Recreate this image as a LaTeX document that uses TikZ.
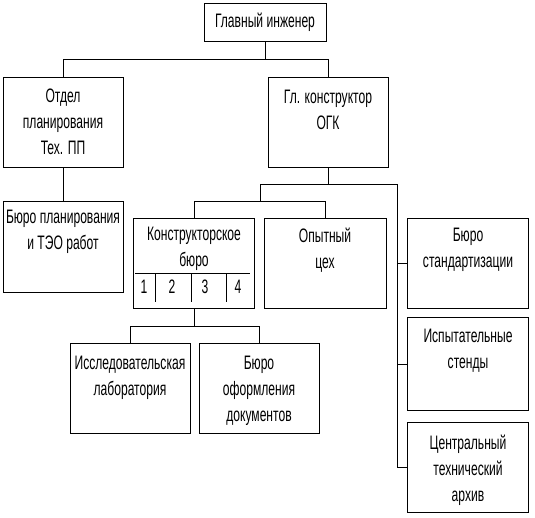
\documentclass[tikz,border=0pt]{standalone}
\usepackage{fontspec}
\newfontfamily\narrowsans[FakeStretch=0.62]{Liberation Sans}
\newcommand{\boxfont}{\narrowsans\fontsize{19.5}{26}\selectfont}
\usetikzlibrary{positioning}

\begin{document}
\begin{tikzpicture}[x=1pt, y=-1pt]
		% Estilos de bloques y líneas
		\tikzset{
			box/.style={
					rectangle, draw, line width=1pt,
					minimum width=120pt, minimum height=90pt, inner sep=0pt
				},
			box text/.style={
					align=center, inner sep=0pt, font=\boxfont,
					execute at begin node={\rule{0pt}{16pt}}
				},
			line/.style={
					draw, line width=1pt
				}
		}
		\useasboundingbox (0,0) rectangle (535,517);

		% Bloques
		\node[box, minimum width=122pt, minimum height=38pt, font=\boxfont] (gi) at (265,22) {Главный инженер};
		\node[box] (otd) at (63,122) {};
		\node[box] (glk) at (328,122) {};
		\node[box, minimum height=91pt] (bpl) at (63,247) {};
		\node[box, minimum width=121pt] (kb) at (194,263) {};
		\node[box, minimum width=122pt] (oc) at (325,263) {};
		\node[box, minimum width=121pt] (bs) at (468,263) {};
		\node[box, minimum width=121pt, minimum height=93pt] (is) at (468,364) {};
		\node[box, minimum width=121pt] (cta) at (468,467) {};
		\node[box] (il) at (130,388) {};
		\node[box] (bo) at (259,388) {};

		% Textos de los bloques
		\node[box text, below=12pt of otd.north] (otd-t) {Отдел\\планирования\\Тех. ПП};
		\node[box text, below=13pt of glk.north] (glk-t) {Гл. конструктор\\ОГК};
		\node[box text, below=9pt of bpl.north] (bpl-t) {Бюро планирования\\и ТЭО работ};
		\node[box text, below=9pt of kb.north] (kb-t) {Конструкторское\\бюро};
		\node[box text, below=10pt of oc.north] (oc-t) {Опытный\\цех};
		\node[box text, below=10pt of bs.north] (bs-t) {Бюро\\стандартизации};
		\node[box text, below=12pt of is.north] (is-t) {Испытательные\\стенды};
		\node[box text, below=13pt of cta.north] (cta-t) {Центральный\\технический\\архив};
		\node[box text, below=13pt of il.north] (il-t) {Исследовательская\\лаборатория};
		\node[box text, below=13pt of bo.north] (bo-t) {Бюро\\оформления\\документов};

		% Secciones del buró
		\draw[line] (135,273) -- (250,273);
		\foreach \x in {155,191,226} {
				\draw[line] (\x,273) -- (\x,302);
			}
		\foreach \n/\x in {1/144,2/172,3/205,4/238} {
				\node[font=\boxfont, inner sep=0pt] (kb-\n) at (\x,287) {\n};
			}

		% Conexiones
		\foreach \to in {otd, glk} {
				\draw[line] (gi.south) -- ++(0,18) -| (\to.north);
			}
		\draw[line] (otd.south) -- (bpl.north);
		\coordinate (f1) at (260,184);
		\coordinate (f2) at (397,184);
		\draw[line] (glk.south) |- (f1);
		\draw[line] (glk.south) |- (f2);
		\foreach \to in {kb, oc} {
				\draw[line] (f1) -- ++(0,17) -| (\to.north);
			}
		\foreach \to in {bs, is, cta} {
				\draw[line] (f2) |- (\to.west);
			}
		\foreach \to in {il, bo} {
				\draw[line] (kb.south) -- ++(0,18) -| (\to.north);
			}
	\end{tikzpicture}
\end{document}
